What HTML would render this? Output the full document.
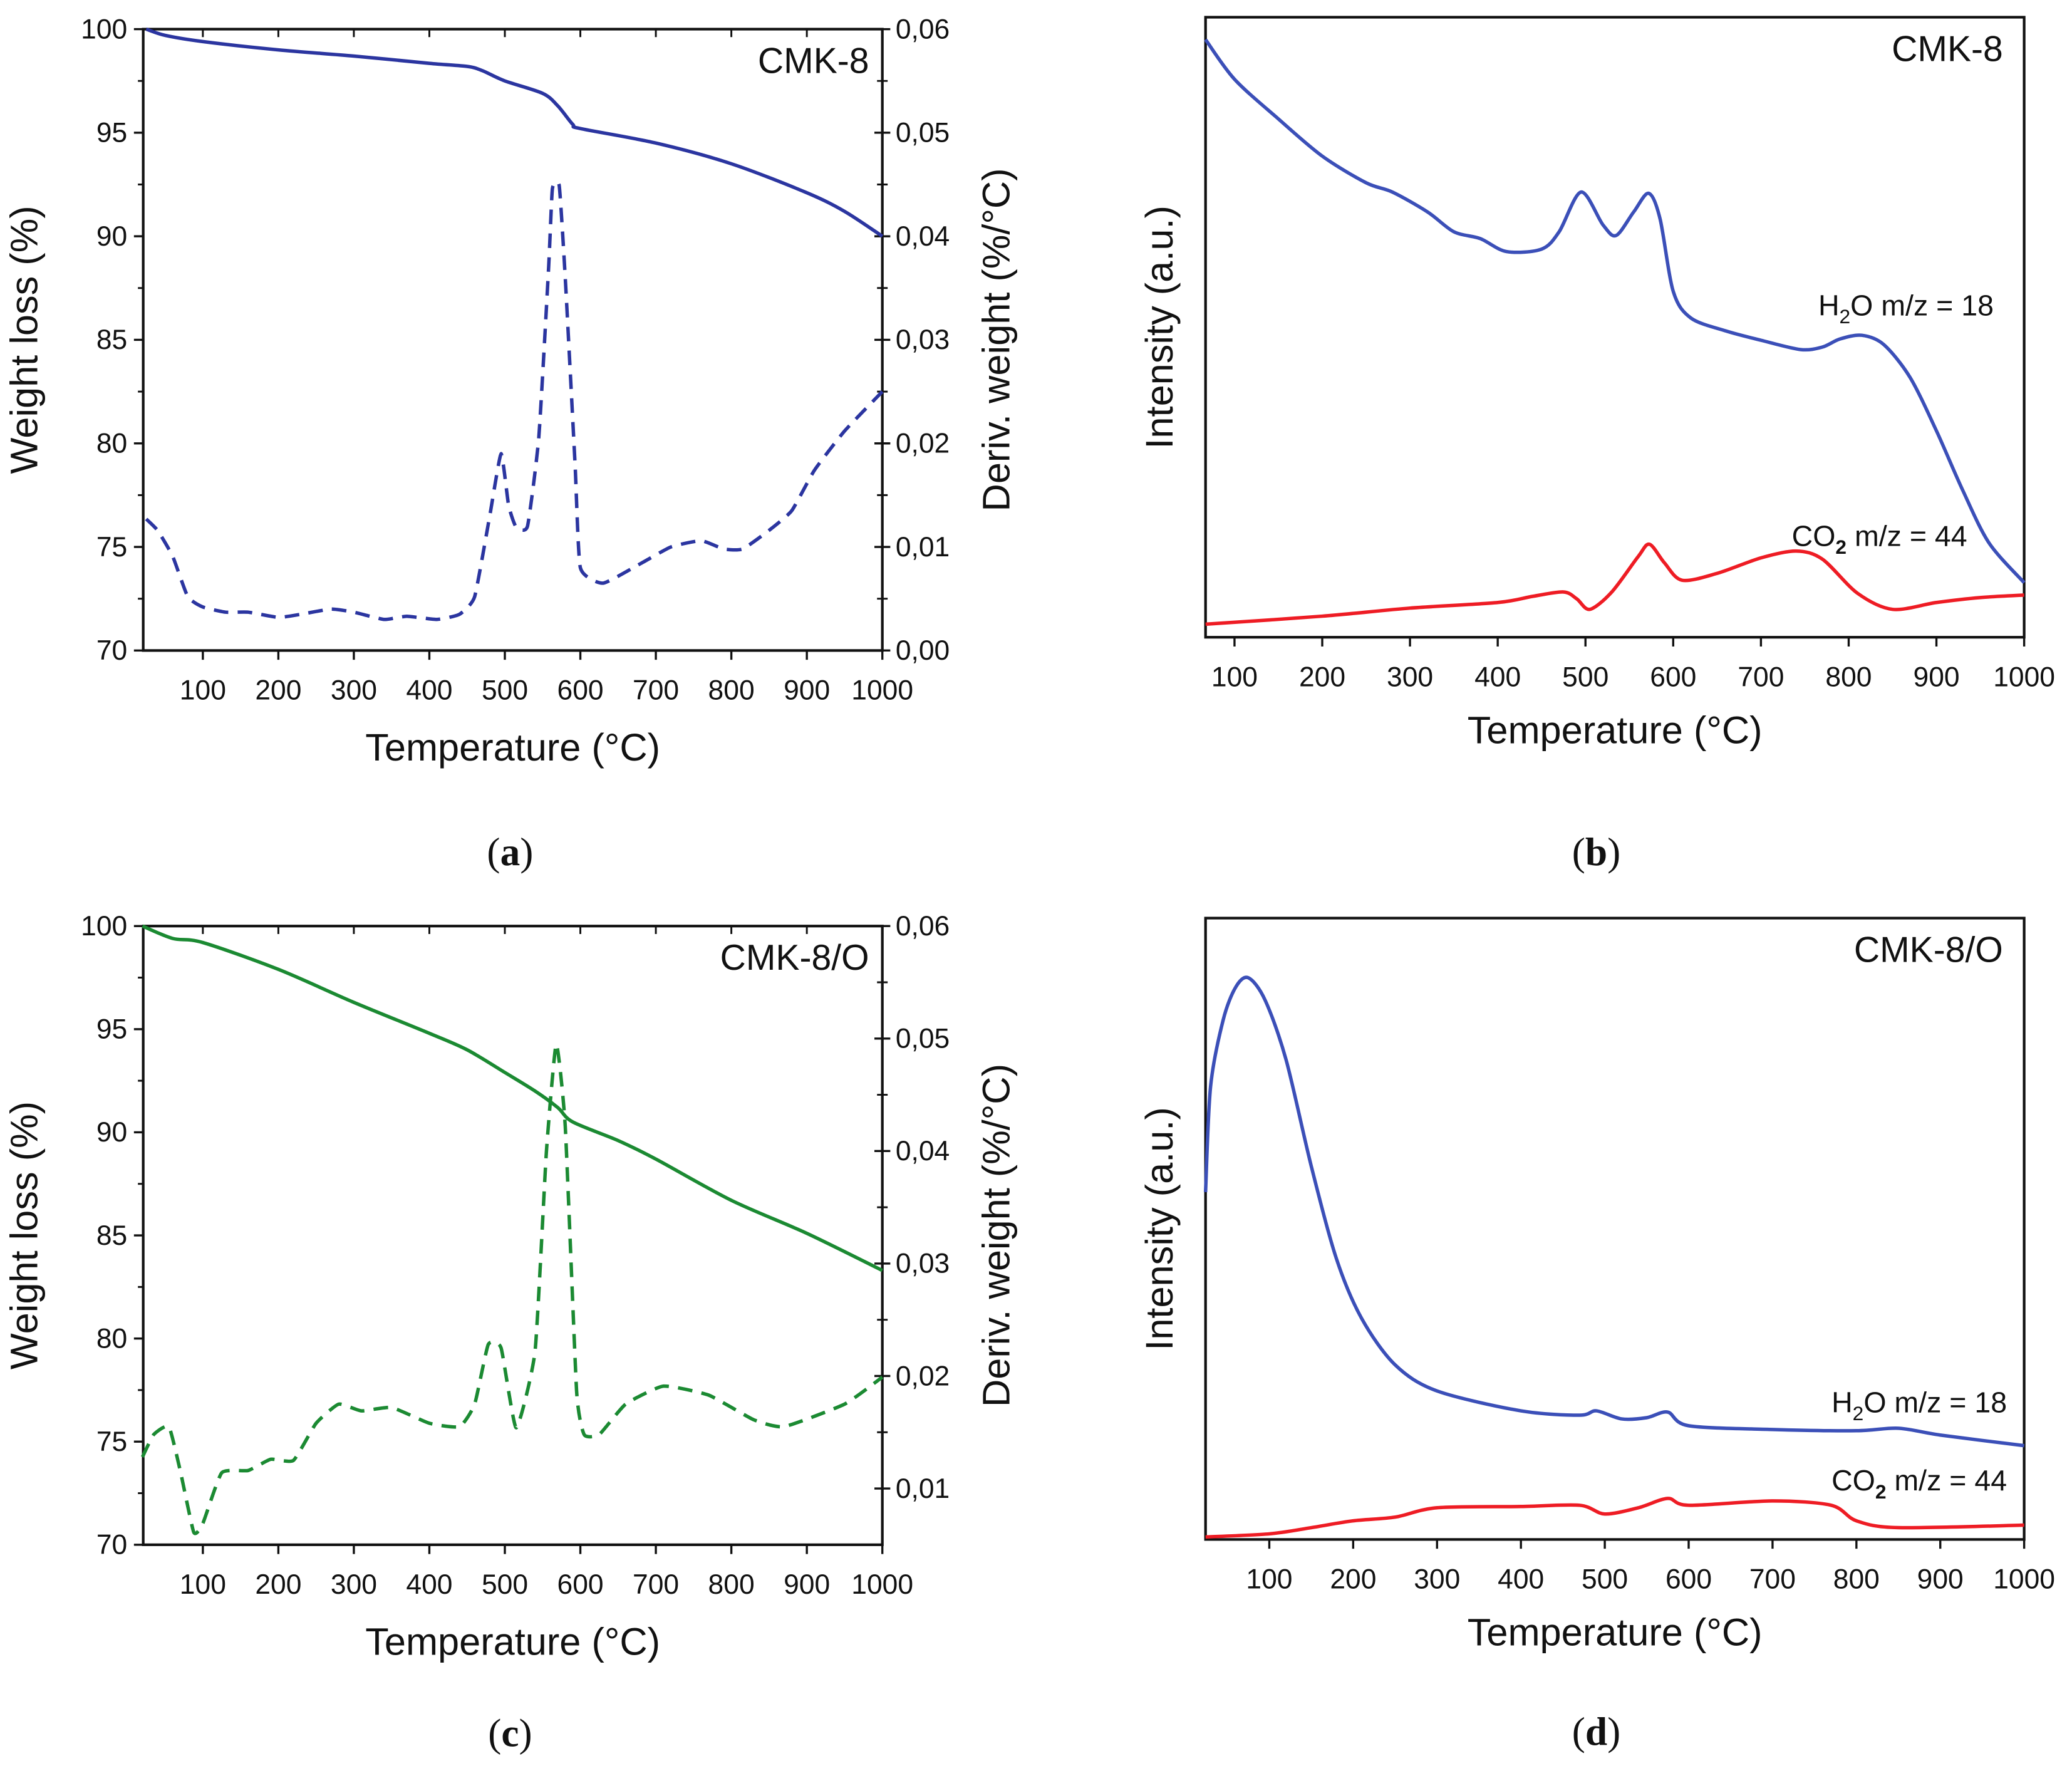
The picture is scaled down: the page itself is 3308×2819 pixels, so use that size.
<!DOCTYPE html>
<html><head><meta charset="utf-8">
<style>
html,body{margin:0;padding:0;background:#fff;}
svg{display:block;font-family:"Liberation Sans","DejaVu Sans",sans-serif;}
</style></head>
<body>
<svg id="fig" width="3308" height="2819" viewBox="0 0 1564 1333" xmlns="http://www.w3.org/2000/svg"></svg>
<script>
// ---- Panel (a) data: CMK-8 TG / DTG
const aTempTG = [25,50,100,200,300,400,450,470,500,550,570,590,600,700,800,900,950,1000];
const aWeight = [100,99.7,99.4,99.0,98.7,98.35,98.2,98.0,97.5,96.9,96.3,95.4,95.2,94.5,93.5,92.1,91.2,90.0];
const aTempDTG = [25,40,60,80,100,130,160,200,230,270,300,340,370,410,440,460,480,495,505,515,530,545,558,563,572,580,593,600,630,680,720,760,790,815,850,880,910,950,1000];
const aDeriv = [0.0127,0.0116,0.0091,0.0052,0.0042,0.0037,0.0037,0.0032,0.0035,0.0040,0.0037,0.0030,0.0033,0.0030,0.0035,0.0052,0.0130,0.0190,0.0140,0.0119,0.0120,0.0206,0.0370,0.0446,0.0449,0.0360,0.0180,0.0080,0.0065,0.0084,0.0100,0.0106,0.0098,0.0098,0.0116,0.0135,0.0174,0.0212,0.0250];
// ---- Panel (b) data: CMK-8 MS
const bTempH2O = [67,100,150,200,250,280,320,350,380,410,450,470,495,520,535,555,572,585,600,620,660,700,745,770,790,815,840,870,900,930,960,1000];
const bH2O = [96.4,90.0,83.6,77.6,73.3,71.8,68.6,65.4,64.3,62.2,62.6,65.4,71.8,66.5,64.8,68.6,71.6,67.5,55.8,51.5,49.4,47.9,46.4,46.8,48.1,48.7,47.2,41.9,33.3,23.7,15.2,8.8];
const bTempCO2 = [67,200,300,400,440,475,490,505,530,560,573,590,610,650,700,740,770,810,850,900,950,1000];
const bCO2 = [2.1,3.4,4.7,5.6,6.6,7.3,6.2,4.5,7.3,13.0,15.0,12.0,9.2,10.3,12.8,13.9,12.6,7.1,4.5,5.6,6.4,6.8];
// ---- Panel (c) data: CMK-8/O TG / DTG
const cTempTG = [20,60,100,200,300,400,450,500,540,570,590,650,700,800,900,1000];
const cWeight = [100,99.4,99.2,97.9,96.3,94.8,94.0,92.9,92.0,91.2,90.5,89.6,88.7,86.7,85.1,83.3];
const cTempDTG = [20,35,55,70,88,100,125,160,190,220,250,280,310,350,400,440,460,478,495,515,540,555,568,580,595,605,625,660,710,770,830,870,950,1000];
const cDeriv = [0.0128,0.0148,0.0155,0.0116,0.0061,0.0069,0.0114,0.0116,0.0126,0.0125,0.0158,0.0175,0.0169,0.0172,0.0158,0.0155,0.0175,0.0228,0.0225,0.0154,0.0222,0.0399,0.0495,0.0422,0.0187,0.0148,0.0148,0.0175,0.0191,0.0183,0.0161,0.0155,0.0175,0.0199];
// ---- Panel (d) data: CMK-8/O MS
const dTempH2O = [24,30,45,60,75,95,120,150,180,210,250,300,400,470,490,520,550,575,600,700,800,850,900,1000];
const dH2O = [55.9,72.9,83.6,88.9,90.4,86.8,77.2,60.1,45.2,35.6,28.1,23.9,20.7,20.0,20.7,19.4,19.6,20.5,18.3,17.7,17.5,17.9,16.8,15.1];
const dTempCO2 = [24,100,150,200,250,300,400,470,500,540,575,600,700,770,800,850,1000];
const dCO2 = [0.4,0.9,1.9,3.0,3.6,5.1,5.3,5.5,4.1,5.1,6.6,5.5,6.2,5.5,3.0,1.9,2.3];
// ticks
const xTicks = [100,200,300,400,500,600,700,800,900,1000];
const wTicks = [70,75,80,85,90,95,100];
const dTicksA = [0,0.01,0.02,0.03,0.04,0.05,0.06];
const dTicksC = [0.01,0.02,0.03,0.04,0.05,0.06];

const NS="http://www.w3.org/2000/svg";
const svg=document.getElementById('fig');
function mk(tag,attrs,parent){const e=document.createElementNS(NS,tag);for(const k in attrs)e.setAttribute(k,attrs[k]);(parent||svg).appendChild(e);return e;}
function scale(d0,d1,r0,r1){return v=>r0+(v-d0)/(d1-d0)*(r1-r0);}
function smoothPath(xs,ys,sx,sy,t){
  const P=xs.map((x,i)=>[sx(x),sy(ys[i])]);
  let d='M'+P[0][0].toFixed(2)+','+P[0][1].toFixed(2);
  for(let i=0;i<P.length-1;i++){
    const p0=P[i-1]||P[i],p1=P[i],p2=P[i+1],p3=P[i+2]||P[i+1];
    const c1=[p1[0]+(p2[0]-p0[0])*t,p1[1]+(p2[1]-p0[1])*t];
    const c2=[p2[0]-(p3[0]-p1[0])*t,p2[1]-(p3[1]-p1[1])*t];
    d+=' C'+c1[0].toFixed(2)+','+c1[1].toFixed(2)+' '+c2[0].toFixed(2)+','+c2[1].toFixed(2)+' '+p2[0].toFixed(2)+','+p2[1].toFixed(2);
  }
  return d;
}
function txt(s,x,y,size,anchor,parent,extra){const t=mk('text',Object.assign({x:x,y:y,'font-size':size,'text-anchor':anchor||'start',fill:'#111'},extra||{}),parent);t.textContent=s;return t;}

function frame(g,L,R,T,B){
  const r=mk('rect',{x:L,y:T,width:R-L,height:B-T,fill:'none',stroke:'#111','stroke-width':2},g);
  
  
}
function xAxis(g,sx,B,labelY,titleY,cx){
  const ax=mk('g',{},g);
  
  
  xTicks.forEach(v=>{
    mk('line',{x1:sx(v),x2:sx(v),y1:B,y2:B+7,stroke:'#111','stroke-width':1.6},ax);
    txt(String(v),sx(v),labelY,21,'middle',ax);
  });
  const t=txt('Temperature (°C)',cx,titleY,29,'middle',g);
  
  
}
function series(g,xs,ys,sx,sy,color,dash,name,t){
  const p=mk('path',{d:smoothPath(xs,ys,sx,sy,t),fill:'none',stroke:color,'stroke-width':2.6,'stroke-linejoin':'round'},g);
  if(dash)p.setAttribute('stroke-dasharray',dash);
  
  
}

function tgPanel(id,L,R,T,B,xmin,tempTG,weight,tempD,deriv,dmin,dTicks,color,label,panelLabel){
  const g=mk('g',{});
  
  
  const sx=scale(xmin,1000,L,R), sy=scale(70,100,B,T), sd=scale(dmin,0.06,B,T);
  frame(g,L,R,T,B);
  const ly=mk('g',{},g);
  
  
  wTicks.forEach(v=>{mk('line',{x1:L-7,x2:L,y1:sy(v),y2:sy(v),stroke:'#111','stroke-width':1.6},ly);txt(String(v),L-12,sy(v)+7,21,'end',ly);});
  for(let v=72.5;v<100;v+=5)mk('line',{x1:L-4,x2:L,y1:sy(v),y2:sy(v),stroke:'#111','stroke-width':1.4},ly);
  const ry=mk('g',{},g);
  
  
  dTicks.forEach(v=>{mk('line',{x1:R-6,x2:R+6,y1:sd(v),y2:sd(v),stroke:'#111','stroke-width':1.6},ry);txt(v.toFixed(2).replace('.',','),R+10,sd(v)+7,21,'start',ry);});
  for(let v=0.005;v<0.06;v+=0.01){if(v>dmin)mk('line',{x1:R-4,x2:R+4,y1:sd(v),y2:sd(v),stroke:'#111','stroke-width':1.4},ry);}
  xTicks.forEach(v=>mk('line',{x1:sx(v),x2:sx(v),y1:T,y2:T+6,stroke:'#111','stroke-width':1.4},g));
  xAxis(g,sx,B,B+37,B+83,(L+R)/2);
  const cy=(T+B)/2;
  const yt=txt('Weight loss (%)',L-80,cy,29,'middle',g,{transform:'rotate(-90 '+(L-80)+' '+cy+')'});
  
  
  const rt=txt('Deriv. weight (%/°C)',R+96,cy,29,'middle',g,{transform:'rotate(-90 '+(R+96)+' '+cy+')'});
  
  
  series(g,tempTG,weight,sx,sy,color,null,'weight-loss-line',0.15);
  series(g,tempD,deriv,sx,sd,color,'11 7','deriv-weight-line',0.08);
  const s=txt(label,R-10,T+33,27,'end',g);
  
  
  const pl=txt('',(L+R)/2-2,B+journey(panelLabel),30,'middle',g,{'font-family':'"Liberation Serif",serif'});
  pl.innerHTML='(<tspan font-weight="bold">'+panelLabel+'</tspan>)';
  
  
}
function journey(p){return p==='a'?162:152;}

function msPanel(id,L,R,T,B,xmin,tH,vH,tC,vC,label,h2oPos,co2Pos,panelLabel,plOff){
  const g=mk('g',{});
  
  
  const sx=scale(xmin,1000,L,R), sy=scale(0,100,B,T);
  frame(g,L,R,T,B);
  xAxis(g,sx,B,B+37,B+80,(L+R)/2);
  const cy=(T+B)/2;
  const yt=txt('Intensity (a.u.)',L-25,cy,29,'middle',g,{transform:'rotate(-90 '+(L-25)+' '+cy+')'});
  
  
  series(g,tH,vH,sx,sy,'#3b4fb8',null,'h2o-line',0.15);
  series(g,tC,vC,sx,sy,'#ee1c24',null,'co2-line',0.15);
  const s=txt(label,R-16,T+33,27,'end',g);
  
  
  const h=txt('',h2oPos[0],h2oPos[1],22,'end',g);
  h.innerHTML='H<tspan font-size="15" dy="6">2</tspan><tspan dy="-6">O m/z = 18</tspan>';
  
  
  const c=txt('',co2Pos[0],co2Pos[1],22,'end',g);
  c.innerHTML='CO<tspan font-size="15" dy="6" font-weight="bold">2</tspan><tspan dy="-6"> m/z = 44</tspan>';
  
  
  const pl=txt('',(L+R)/2-14,B+plOff,30,'middle',g,{'font-family':'"Liberation Serif",serif'});
  pl.innerHTML='(<tspan font-weight="bold">'+panelLabel+'</tspan>)';
  
  
}

tgPanel('a',108,666,22,491,21,aTempTG,aWeight,aTempDTG,aDeriv,0,dTicksA,'#2b35a0','CMK-8','a');
msPanel('b',910,1528,13,481,67,bTempH2O,bH2O,bTempCO2,bCO2,'CMK-8',[1505,238],[1485,412],'b',172);
tgPanel('c',108,666,699,1166,21,cTempTG,cWeight,cTempDTG,cDeriv,0.005,dTicksC,'#1b8a32','CMK-8/O','c');
msPanel('d',910,1528,693,1162,24,dTempH2O,dH2O,dTempCO2,dCO2,'CMK-8/O',[1515,1066],[1515,1125],'d',155);
</script>
</body></html>
